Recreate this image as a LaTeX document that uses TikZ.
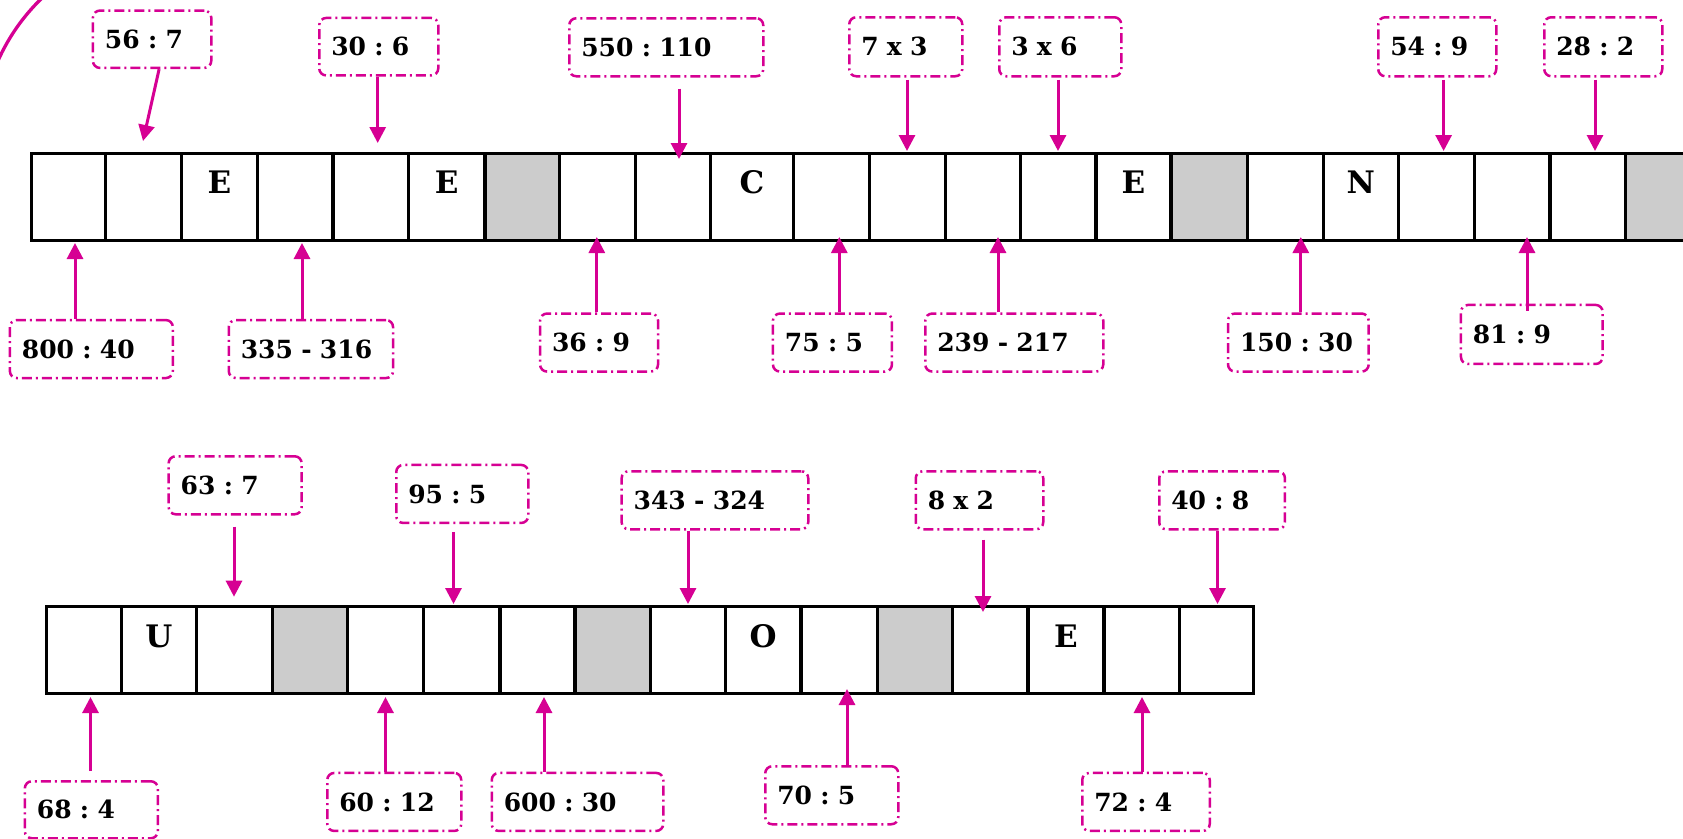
\documentclass[tikz,border=0pt]{standalone}
\usepackage{fontspec}
\setmainfont{DejaVu Serif}
\usetikzlibrary{arrows.meta}
\definecolor{mag}{RGB}{214,0,147}
\definecolor{cellgray}{RGB}{204,204,204}
\frenchspacing
\tikzset{
 lbl/.style={draw=mag, line width=2.5pt, dash pattern=on 10pt off 4pt on 2pt off 4pt, rounded corners=7pt, inner xsep=12pt, inner ysep=0pt, align=left, anchor=north west, font=\fontsize{25}{30}\selectfont\bfseries},
 arr/.style={draw=mag, line width=3pt, -{Triangle[length=16pt,width=16pt]}},
 grid/.style={draw=black, line width=3.3pt},
 letter/.style={font=\fontsize{31}{36}\selectfont\bfseries, anchor=base, inner sep=0pt},
 arcline/.style={draw=mag, line width=3.3pt},
}
\newcommand\lab[6]{\node[lbl,text width=#4pt,minimum height=#5pt] (#1) at (#2,#3) {\mbox{#6}};}
\begin{document}
\begin{tikzpicture}[x=1pt,y=-1pt]
\path[use as bounding box] (0,0) rectangle (1683,838);
\fill[white] (0,0) rectangle (1683,838);
\clip (0,0) rectangle (1683,838);

% arc in the top-left corner
\draw[arcline] (180.7,142.1) ++(162:200pt) arc[start angle=162,end angle=128,radius=200pt];

% row 1
\fill[cellgray] (485,153.5) rectangle (559.6,240.5);
\fill[cellgray] (1171,153.5) rectangle (1247.2,240.5);
\fill[cellgray] (1625.5,153.5) rectangle (1701,240.5);
\draw[grid] (31.5,153.5) rectangle (1701,240.5);
\foreach \x in {105.2,181.4,257.7,333,408.3,485,559.6,635.4,710.8,793.5,869.6,945.7,1020.5,1096,1171,1247.2,1323.2,1398.5,1474.4,1550,1625.5}
  \draw[grid] (\x,153.5) -- (\x,240.5);

% row 2
\fill[cellgray] (272.6,606.4) rectangle (347.7,693.6);
\fill[cellgray] (575,606.4) rectangle (650.6,693.6);
\fill[cellgray] (877.2,606.4) rectangle (952.5,693.6);
\draw[grid] (46.5,606.4) rectangle (1253.7,693.6);
\foreach \x in {121.5,196.7,272.6,347.7,423.6,500,575,650.6,725.3,801,877.2,952.5,1028,1104,1179.5}
  \draw[grid] (\x,606.4) -- (\x,693.6);

% letters
\node[letter] (e1) at (219.5,193.5) {E};
\node[letter] (e2) at (446.6,193.5) {E};
\node[letter] (c1) at (752,193.5) {C};
\node[letter] (e3) at (1133.5,193.5) {E};
\node[letter] (n1) at (1360.8,193.5) {N};
\node[letter] (u1) at (159,647) {U};
\node[letter] (o1) at (763,647) {O};
\node[letter] (e4) at (1066,647) {E};

% labels above row 1
\lab{L1}{91.7}{9.3}{94.3}{57.4}{56 : 7}
\lab{L2}{318}{16.7}{95}{57.5}{30 : 6}
\lab{L3}{568}{17}{170}{58}{550 : 110}
\lab{L4}{848}{16}{89}{59}{7 x 3}
\lab{L5}{998}{16}{98}{59}{3 x 6}
\lab{L6}{1377}{16}{94}{59}{54 : 9}
\lab{L7}{1543}{16}{94}{59}{28 : 2}
% labels below row 1
\lab{B1}{8.6}{318.8}{139}{58}{800 : 40}
\lab{B2}{227.5}{318.8}{140.3}{58}{335 - 316}
\lab{B3}{538.8}{312.3}{94}{58}{36 : 9}
\lab{B4}{771.7}{312.3}{95}{58}{75 : 5}
\lab{B5}{924}{312.3}{154}{58}{239 - 217}
\lab{B6}{1226.8}{312.3}{116.6}{58}{150 : 30}
\lab{B7}{1459.7}{303.7}{117.7}{59}{81 : 9}
% labels above row 2
\lab{T1}{167.4}{455}{109}{58}{63 : 7}
\lab{T2}{395}{463.7}{108}{58}{95 : 5}
\lab{T3}{620.4}{470}{162.6}{58}{343 - 324}
\lab{T4}{914.5}{470}{103.5}{58}{8 x 2}
\lab{T5}{1158}{470}{101.7}{58}{40 : 8}
% labels below row 2
\lab{U1}{23.6}{780}{109}{57}{68 : 4}
\lab{U2}{326}{771.7}{110}{58}{60 : 12}
\lab{U3}{490.5}{771.7}{147.5}{58}{600 : 30}
\lab{U4}{764}{765}{109}{58}{70 : 5}
\lab{U5}{1081}{771.7}{103.5}{58}{72 : 4}

% arrow tips
\coordinate (tA1) at (143,141);
\coordinate (tA2) at (377.7,143);
\coordinate (tA3) at (679,159);
\coordinate (tA4) at (907,151);
\coordinate (tA5) at (1058,151);
\coordinate (tA6) at (1443.6,151);
\coordinate (tA7) at (1595,151);
\coordinate (tC1) at (75,243);
\coordinate (tC2) at (302,243);
\coordinate (tC3) at (596.8,237);
\coordinate (tC4) at (839.3,237);
\coordinate (tC5) at (998,237);
\coordinate (tC6) at (1300.8,237);
\coordinate (tC7) at (1527,237);
\coordinate (tD1) at (234,596.7);
\coordinate (tD2) at (453.5,604);
\coordinate (tD3) at (688,604);
\coordinate (tD4) at (983,612);
\coordinate (tD5) at (1217.5,604);
\coordinate (tE1) at (90.5,697);
\coordinate (tE2) at (385.5,697);
\coordinate (tE3) at (544,697);
\coordinate (tE4) at (847,689);
\coordinate (tE5) at (1142,697);

% arrows row 1
\draw[arr] ([xshift=7pt]L1.south) -- (tA1);
\draw[arr] (L2.south -| tA2) -- (tA2);
\draw[arr,shorten <=11pt] (L3.south -| tA3) -- (tA3);
\draw[arr,shorten <=2pt] (L4.south -| tA4) -- (tA4);
\draw[arr,shorten <=2pt] (L5.south -| tA5) -- (tA5);
\draw[arr,shorten <=2pt] (L6.south -| tA6) -- (tA6);
\draw[arr,shorten <=2pt] (L7.south -| tA7) -- (tA7);
\draw[arr] (B1.north -| tC1) -- (tC1);
\draw[arr] (B2.north -| tC2) -- (tC2);
\draw[arr] (B3.north -| tC3) -- (tC3);
\draw[arr] (B4.north -| tC4) -- (tC4);
\draw[arr] (B5.north -| tC5) -- (tC5);
\draw[arr] (B6.north -| tC6) -- (tC6);
\draw[arr,shorten <=-7pt] (B7.north -| tC7) -- (tC7);
% arrows row 2
\draw[arr,shorten <=11pt] (T1.south -| tD1) -- (tD1);
\draw[arr,shorten <=8pt] (T2.south -| tD2) -- (tD2);
\draw[arr] (T3.south -| tD3) -- (tD3);
\draw[arr,shorten <=9pt] (T4.south -| tD4) -- (tD4);
\draw[arr] (T5.south -| tD5) -- (tD5);
\draw[arr,shorten <=9pt] (U1.north -| tE1) -- (tE1);
\draw[arr] (U2.north -| tE2) -- (tE2);
\draw[arr] (U3.north -| tE3) -- (tE3);
\draw[arr] (U4.north -| tE4) -- (tE4);
\draw[arr] (U5.north -| tE5) -- (tE5);
\end{tikzpicture}
\end{document}
